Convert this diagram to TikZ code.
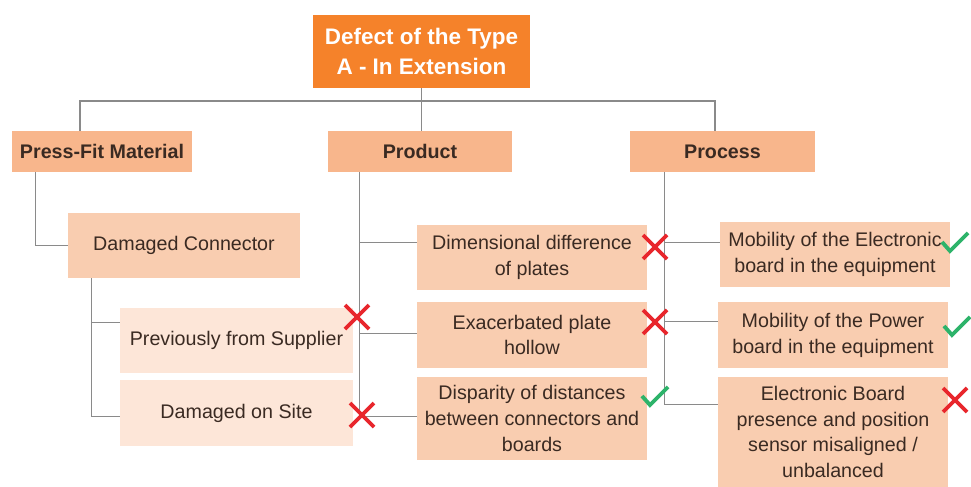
\documentclass[tikz,border=0pt]{standalone}
\usepackage{fontspec}
\setmainfont{Liberation Sans}
\definecolor{topfill}{HTML}{F5822A}
\definecolor{headfill}{HTML}{F8B68C}
\definecolor{itemfill}{HTML}{F9CDB0}
\definecolor{subfill}{HTML}{FDE6D8}
\definecolor{ink}{HTML}{3A2A22}
\definecolor{wire}{HTML}{8A8A8A}
\definecolor{xred}{HTML}{E8262C}
\definecolor{okgreen}{HTML}{2DB36A}
\tikzset{
  box/.style={fill=itemfill, text=ink, align=center, font=\fontsize{11.2}{14.7}\selectfont, inner sep=0pt, minimum width=4.6cm, minimum height=1.3cm},
  head/.style={box, fill=headfill, font=\fontsize{11.2}{14.7}\selectfont\bfseries, minimum height=0.82cm},
  sub/.style={box, fill=subfill},
  link/.style={draw=wire, line width=0.9pt},
  nok/.pic={\draw[xred, line width=2.2pt] (-12,-12) -- (12,12) (-12,12) -- (12,-12);},
  ok/.pic={\draw[okgreen, line width=2.2pt] (-13,-1) -- (-5,8) -- (13,-10);}
}
\begin{document}
\begin{tikzpicture}[x=0.02cm, y=-0.02cm]
\useasboundingbox[fill=white] (0,0) rectangle (971,487);
\node[box, fill=topfill, text=white, font=\fontsize{12.8}{17}\selectfont\bfseries, minimum width=4.34cm, minimum height=1.46cm] (top) at (421.5,51.5) {Defect of the Type\\A - In Extension};
\node[head, minimum width=3.6cm] (press) at (102,151.5) {Press-Fit Material};
\node[head, minimum width=3.68cm] (product) at (420,151.5) {Product};
\node[head, minimum width=3.7cm] (process) at (722.5,151.5) {Process};
\node[box, minimum width=4.64cm] (conn) at (184,245.5) {Damaged Connector};
\node[sub, minimum width=4.66cm] (prev) at (236.5,340.5) {Previously from Supplier};
\node[sub, minimum width=4.66cm, minimum height=1.32cm] (site) at (236.5,413) {Damaged on Site};
\node[box] (dim) at (532,257.5) {Dimensional difference\\of plates};
\node[box, minimum height=1.32cm] (exa) at (532,335) {Exacerbated plate\\hollow};
\node[box, minimum height=1.66cm] (disp) at (532,418.5) {Disparity of distances\\between connectors and\\boards};
\node[box] (mobe) at (835,254.5) {Mobility of the Electronic\\board in the equipment};
\node[box, minimum height=1.32cm] (mobp) at (833,335) {Mobility of the Power\\board in the equipment};
\node[box, minimum height=2.2cm] (board) at (833,432) {Electronic Board\\presence and position\\sensor misaligned /\\unbalanced};
\coordinate (busl) at (80,101);
\coordinate (busr) at (715,101);
\draw[link] (busl |- press.north) -- (busl) -- (busr) -- (busr |- process.north);
\draw[link] (top.south) -- (top.south |- product.north);
\draw[link] ([xshift=0.48cm]press.south west) |- (conn.west);
\foreach \b/\d in {prev/15,site/37} \draw[link] ([xshift=0.48cm]conn.south west) |- ([yshift=-\d*0.02cm]\b.north west);
\foreach \b/\d in {dim/18,exa/32,disp/40} \draw[link] ([xshift=0.64cm]product.south west) |- ([yshift=-\d*0.02cm]\b.north west);
\foreach \b/\d in {mobe/21,mobp/20,board/28} \draw[link] ([xshift=0.7cm]process.south west) |- ([yshift=-\d*0.02cm]\b.north west);
\foreach \x/\y in {357/317,362/415,655/247,655/322,955/400} \pic at (\x,\y) {nok};
\foreach \x/\y in {655/397,955/243,957/327} \pic at (\x,\y) {ok};
\end{tikzpicture}
\end{document}
